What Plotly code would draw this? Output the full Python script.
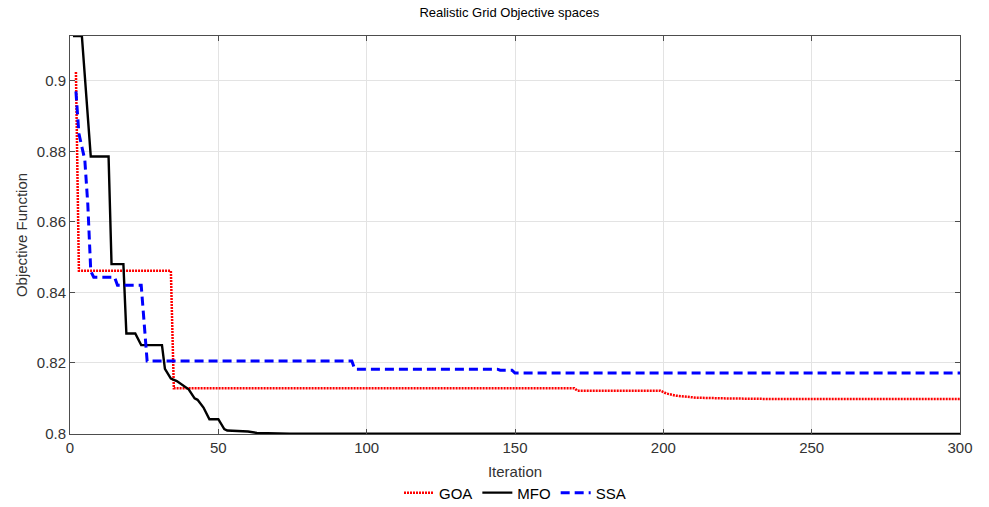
import plotly.graph_objects as go

# Data
goa_iter = [2, 3, 34, 35, 170, 171, 199, 201, 204, 211, 221, 239, 300]
goa_val = [0.9025, 0.8461, 0.8461, 0.8128, 0.8128, 0.8121, 0.8121, 0.8113, 0.8107,
           0.8101, 0.8099, 0.8097, 0.8097]

mfo_iter = [1, 4, 7, 13, 14, 18, 19, 22, 24, 31, 32, 34, 36, 40, 42, 43, 45, 47, 50,
            52, 53, 60, 63, 74, 300]
mfo_val = [0.9127, 0.9127, 0.8785, 0.8785, 0.848, 0.848, 0.8283, 0.8283, 0.825, 0.825,
           0.8183, 0.8155, 0.8148, 0.8125, 0.8099, 0.8095, 0.8073, 0.804, 0.804,
           0.8012, 0.8008, 0.8005, 0.8001, 0.7999, 0.7998]

ssa_iter = [2, 3, 5, 6, 7, 8, 15, 16, 24, 26, 95, 96, 144, 145, 149, 150, 300]
ssa_val = [0.897, 0.885, 0.8775, 0.865, 0.846, 0.8443, 0.8443, 0.842, 0.842, 0.8205,
           0.8205, 0.8182, 0.8182, 0.8179, 0.8179, 0.8171, 0.8171]

x_ticks = [0, 50, 100, 150, 200, 250, 300]
y_ticks = [0.8, 0.82, 0.84, 0.86, 0.88, 0.9]
y_ticktext = ["0.8", "0.82", "0.84", "0.86", "0.88", "0.9"]

font_family = "Liberation Sans, Arial, sans-serif"

fig = go.Figure()
fig.add_trace(go.Scatter(x=goa_iter, y=goa_val, mode="lines", name="GOA",
                         line=dict(color="#ff0000", width=2.5, dash="2px,1px")))
fig.add_trace(go.Scatter(x=mfo_iter, y=mfo_val, mode="lines", name="MFO",
                         line=dict(color="#000000", width=2.4)))
fig.add_trace(go.Scatter(x=ssa_iter, y=ssa_val, mode="lines", name="SSA",
                         line=dict(color="#0000ff", width=3, dash="9px,5px")))

axis_common = dict(
    showline=True, linecolor="#4d4d4d", linewidth=1, mirror="ticks",
    ticks="inside", ticklen=5, tickcolor="#4d4d4d",
    showgrid=True, gridcolor="#e3e3e3", gridwidth=1, zeroline=False,
    tickfont=dict(family=font_family, size=15, color="#333333"),
)

fig.update_layout(
    width=989, height=507,
    paper_bgcolor="white", plot_bgcolor="white",
    margin=dict(l=70, r=29, t=36, b=73, autoexpand=False),
    title=dict(text="Realistic Grid Objective spaces", x=0.515, xanchor="center",
               y=0.976, yanchor="middle",
               font=dict(family=font_family, size=13, color="#000000")),
    xaxis=dict(range=[0, 300], tickvals=x_ticks,
               title=dict(text="Iteration", standoff=11,
                          font=dict(family=font_family, size=15, color="#333333")),
               **axis_common),
    yaxis=dict(range=[0.7998, 0.9127], tickvals=y_ticks, ticktext=y_ticktext,
               title=dict(text="Objective Function", standoff=5,
                          font=dict(family=font_family, size=15, color="#333333")),
               **axis_common),
    legend=dict(orientation="h", x=0.5, xanchor="center", y=-0.148, yanchor="middle",
                font=dict(family=font_family, size=15, color="#000000"),
                bgcolor="rgba(0,0,0,0)", itemwidth=30, tracegroupgap=0),
    showlegend=True,
)

fig.write_html("out.html")
